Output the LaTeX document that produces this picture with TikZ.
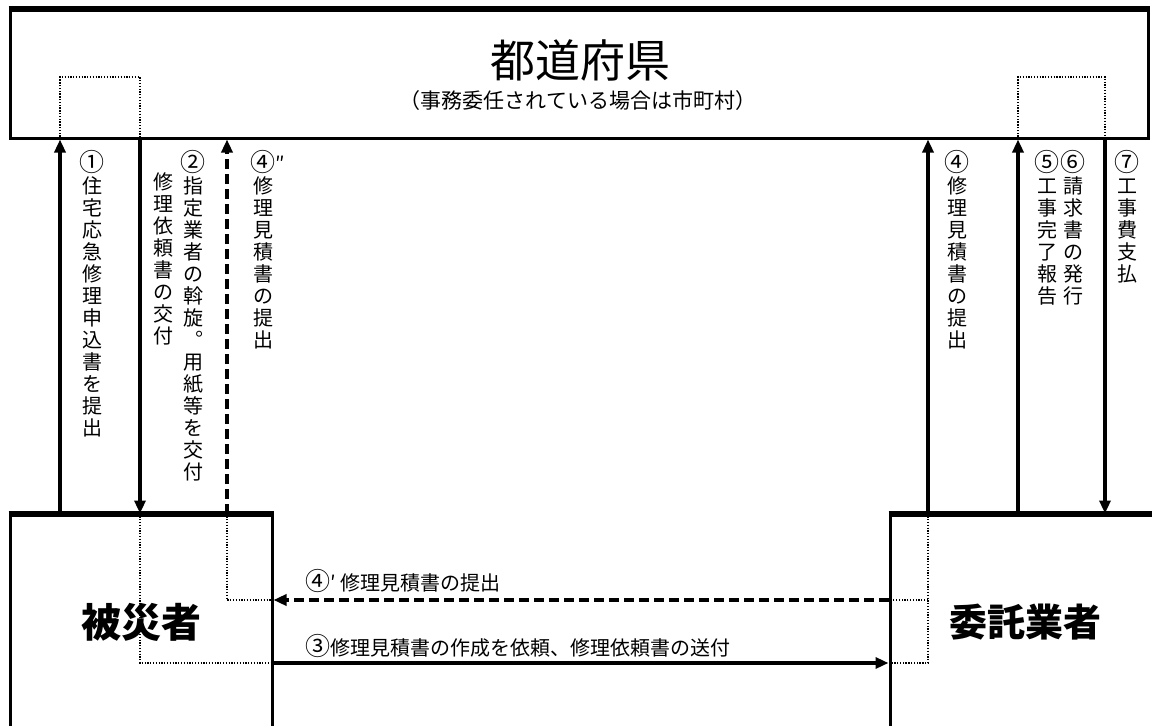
\documentclass[tikz,border=0pt]{standalone}
\usepackage{fontspec}
\setmainfont{Noto Sans CJK JP}
\usetikzlibrary{arrows.meta,calc}

% stack the characters of a label one under another (vertical writing)
\ExplSyntaxOn
\cs_new_protected:Npn \tate_cell:n #1 { \hbox_to_wd:nn {1em} { \hss #1 \hss } }
\NewDocumentCommand \tate { m }
  {
    \vbox:n
      {
        \baselineskip = 22pt
        \lineskiplimit = -100pt
        \tl_map_inline:nn {#1} { \tate_cell:n {##1} }
      }
  }
\ExplSyntaxOff
% circled numbers are small in this font
\newcommand\maru[1]{{\fontsize{25}{25}\selectfont #1}}

\begin{document}
\begin{tikzpicture}[x=1pt, y=-1pt,
    box/.style={draw, line width=3pt, inner sep=0pt},
    arr/.style={line width=3.2pt, -{Triangle[length=13pt,width=11pt]}},
    dashedarr/.style={arr, line width=3.6pt, dash pattern=on 10pt off 5pt},
    dot/.style={line width=1.5pt, dash pattern=on 1.3pt off 1.5pt},
    vlab/.style={anchor=north, inner sep=0pt, font=\fontsize{20}{22}\selectfont},
    hlab/.style={anchor=base west, inner sep=0pt, font=\fontsize{20}{22}\selectfont}]
  \useasboundingbox (0,0) rectangle (1152,726);

  % Columns and rows
  \coordinate (cA) at (60,0);   % 1
  \coordinate (cB) at (140,0);  % 2
  \coordinate (cC) at (227,0);  % 4''
  \coordinate (cD) at (928,0);  % 4
  \coordinate (cE) at (1018,0); % 5, 6
  \coordinate (cF) at (1105,0); % 7
  \coordinate (rowQ) at (0,600);  % 4'
  \coordinate (rowR) at (0,663);  % 3
  \coordinate (loopL) at (100,77);
  \coordinate (loopR) at (1060,77);

  % Boxes
  \node[box, minimum width=1138pt, minimum height=128pt] (pref) at (579,74) {};
  \draw[line width=5pt] (pref.north west) -- (pref.north east);
  \node[font=\fontsize{45}{45}\selectfont] (title) at (580,60) {都道府県};
  \node[font=\fontsize{21}{21}\selectfont] (sub) at (578,101) {（事務委任されている場合は市町村）};

  \node[box, minimum width=262pt, minimum height=215pt,
        font=\fontsize{40}{40}\selectfont\bfseries] (victim) at (141,622.5) {被災者};
  \draw[line width=5pt] (victim.north west) -- (victim.north east);
  \node[box, minimum width=270pt, minimum height=215pt,
        font=\fontsize{38}{38}\selectfont\bfseries] (firm) at (1025,622.5) {委託業者};
  \draw[line width=5pt] (firm.north west) -- (firm.north east);

  % Dotted links
  \draw[dot] (pref.south -| cA) |- (loopL) -| (pref.south -| cB);
  \draw[dot] (pref.south -| cE) |- (loopR) -| (pref.south -| cF);
  \draw[dot] (victim.north -| cB) |- (victim.east |- rowR);
  \draw[dot] (victim.north -| cC) |- (victim.east |- rowQ);
  \draw[dot] (firm.north -| cD) |- (firm.west |- rowR);
  \draw[dot] (cD |- rowQ) -- (firm.west |- rowQ);

  % Arrows
  \draw[arr] (victim.north -| cA) -- (pref.south -| cA);
  \draw[arr] (pref.south -| cB) -- (victim.north -| cB);
  \draw[dashedarr] (victim.north -| cC) -- (pref.south -| cC);
  \draw[arr] (firm.north -| cD) -- (pref.south -| cD);
  \draw[arr] (firm.north -| cE) -- (pref.south -| cE);
  \draw[arr] (pref.south -| cF) -- (firm.north -| cF);
  \draw[arr] (victim.east |- rowR) -- (firm.west |- rowR);
  \draw[dashedarr] (firm.west |- rowQ) -- (victim.east |- rowQ);

  % Labels
  \node[vlab] (l1) at (92,150) {\tate{{\maru{①}}住宅応急修理申込書を提出}};
  \node[vlab] (l2a) at (193,150) {\tate{{\maru{②}}指定業者の斡旋︒用紙等を交付}};
  \node[vlab] (l2b) at (163,172) {\tate{修理依頼書の交付}};
  \node[vlab] (l4b) at (263,150) {\tate{{\maru{④}\rlap{″}}修理見積書の提出}};
  \node[vlab] (l4) at (957,150) {\tate{{\maru{④}}修理見積書の提出}};
  \node[vlab] (l5) at (1047,150) {\tate{{\maru{⑤}}工事完了報告}};
  \node[vlab] (l6) at (1073,150) {\tate{{\maru{⑥}}請求書の発行}};
  \node[vlab] (l7) at (1127,150) {\tate{{\maru{⑦}}工事費支払}};
  \node[hlab] (l4a) at (305,590) {\maru{④}′\ 修理見積書の提出};
  \node[hlab] (l3) at (305,655) {\maru{③}修理見積書の作成を依頼、修理依頼書の送付};
\end{tikzpicture}
\end{document}
